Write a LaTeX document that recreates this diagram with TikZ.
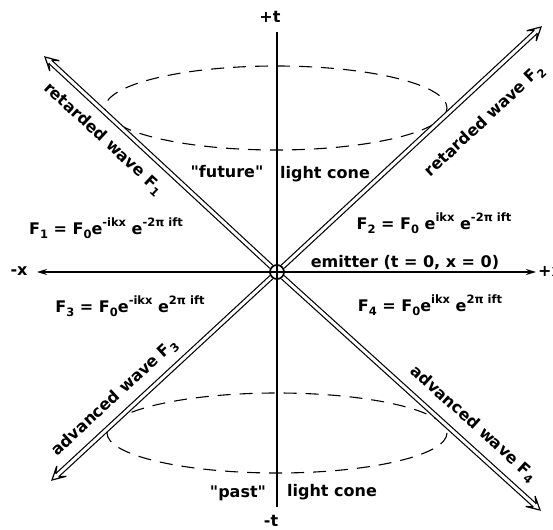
\documentclass[tikz,border=0pt]{standalone}
\usepackage{fontspec}
\setmainfont{DejaVu Sans}[Ligatures=TeXOff]
\usetikzlibrary{arrows.meta,calc}
\newcommand\upr[1]{\raisebox{0.5em}{\fontsize{11.5}{11.5}\selectfont #1}}
\newcommand\dnr[1]{\raisebox{-0.25em}{\fontsize{11.5}{11.5}\selectfont #1}}
\newcommand\wavearrow[2]{%
  \draw[wave, shorten >=7pt] (#1) -- (#2);
  \coordinate (hA) at ($(#2)!7pt!(#1)$);
  \coordinate (hB) at ($(#2)!13pt!(#1)$);
  \draw[wavehead]
    ($(hA)!2.1pt!90:(#2)$) -- ($(hB)!7pt!90:(#2)$) -- (#2) --
    ($(hB)!7pt!-90:(#2)$) -- ($(hA)!2.1pt!-90:(#2)$);
}
\begin{document}
\begin{tikzpicture}[x=1pt,y=-1pt,
  lbl/.style={font=\fontsize{16}{16}\bfseries\selectfont, inner sep=0pt},
  wave/.style={double, draw=black, double distance=3pt, line width=1.2pt},
  wavehead/.style={line width=1.2pt, fill=white, line join=miter},
  cone/.style={dash pattern=on 13pt off 9pt, line width=1.1pt},
  axisv/.style={line width=2.2pt},
  axish/.style={line width=1.5pt, {Stealth[length=10pt,width=6pt]}-{Stealth[length=10pt,width=6pt]}},
  emit/.style={circle, draw, line width=1.4pt, minimum size=14pt, inner sep=0pt}
]
\useasboundingbox (0,0) rectangle (553,529);
% light cones
\draw[cone] (276,108) ellipse [x radius=171, y radius=42];
\draw[cone] (277,433) ellipse [x radius=170, y radius=40];
% emitter and end points
\node[emit] (O) at (277,272) {};
\coordinate (ul) at (45,57);
\coordinate (ur) at (541,27);
\coordinate (ll) at (52,480);
\coordinate (lr) at (540,510);
\coordinate (tp) at (277,32);
\coordinate (bt) at (277,507);
\coordinate (xl) at (37,272);
\coordinate (xr) at (536,272);
% waves
\wavearrow{O}{ul}
\wavearrow{O}{ur}
\wavearrow{O}{ll}
\wavearrow{O}{lr}
% axes
\draw[axisv] (tp) -- (bt);
\draw[axish] (xl) -- (xr);
\node[emit] at (O) {};
% axis labels
\node[lbl] (pt) at (270,17) {+t};
\node[lbl] (mt) at (271,521) {-t};
\node[lbl] (mx) at (19,271) {-x};
\node[lbl, anchor=west] (px) at (538,271) {+x};
% wave labels
\node[lbl, rotate=-42.8] (w1) at (103,139) {retarded wave F\dnr{1}};
\node[lbl, rotate=42.9] (w2) at (485,121) {retarded wave F\dnr{2}};
\node[lbl, rotate=42.7] (w3) at (115,398) {advanced wave F\dnr{3}};
\node[lbl, rotate=-42.1] (w4) at (473,424) {advanced wave F\dnr{4}};
% formulas
\node[lbl] (f1) at (106,228) {F\dnr{1} = F\dnr{0}e\upr{-ikx} e\upr{-2π ift}};
\node[lbl] (f2) at (434,223) {F\dnr{2} = F\dnr{0} e\upr{ikx} e\upr{-2π ift}};
\node[lbl] (f3) at (130,306) {F\dnr{3} = F\dnr{0}e\upr{-ikx} e\upr{2π ift}};
\node[lbl] (f4) at (430,305) {F\dnr{4} = F\dnr{0}e\upr{ikx} e\upr{2π ift}};
% cone labels
\node[lbl] (fu) at (227,172) {"future"};
\node[lbl] (lc1) at (325,174) {light cone};
\node[lbl] (pa) at (238,493) {"past"};
\node[lbl] (lc2) at (332,492) {light cone};
\node[lbl] (em) at (405,263) {emitter (t = 0, x = 0)};
\end{tikzpicture}
\end{document}
